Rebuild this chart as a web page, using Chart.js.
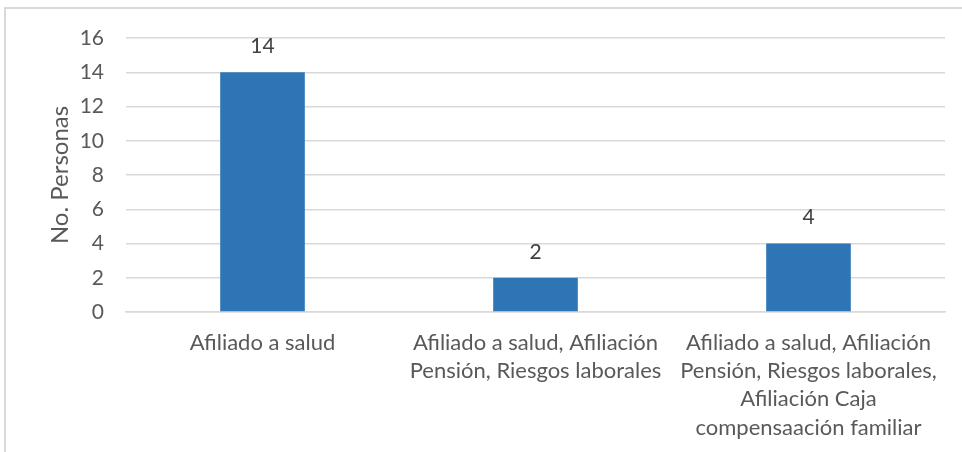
<!DOCTYPE html>
<html lang="es">
<head>
  <meta charset="UTF-8">
  <title>Afiliación</title>
  <script src="https://cdn.jsdelivr.net/npm/chart.js"></script>
  <style>
    html, body { margin: 0; padding: 0; background: #fff; }
    .frame {
      position: absolute; left: 4px; top: 7px; width: 970px; height: 460px;
      border-left: 2px solid #d9d9d9; border-top: 2px solid #d9d9d9;
    }
    .chart-box { position: absolute; left: 0; top: 0; width: 962px; height: 452px; }
  </style>
</head>
<body>
  <div class="frame"></div>
  <div class="chart-box"><canvas id="afiliacionChart"></canvas></div>

  <script>
    // Datos
    const categorias = [
      ['Afiliado a salud'],
      ['Afiliado a salud, Afiliación', 'Pensión, Riesgos laborales'],
      ['Afiliado a salud, Afiliación', 'Pensión, Riesgos laborales,', 'Afiliación Caja', 'compensaación familiar']
    ];
    const personas = [14, 2, 4];
    const ticksY = [0, 2, 4, 6, 8, 10, 12, 14, 16];

    const fuente = 'Lato, "Liberation Sans", sans-serif';

    // etiquetas de valor sobre las barras
    const etiquetas = {
      id: 'etiquetas',
      afterDatasetsDraw(chart) {
        const ctx = chart.ctx;
        const meta = chart.getDatasetMeta(0);
        ctx.save();
        ctx.font = '21px ' + fuente;
        ctx.fillStyle = '#404040';
        ctx.textAlign = 'center';
        ctx.textBaseline = 'middle';
        meta.data.forEach((bar, i) => {
          ctx.fillText(String(personas[i]), bar.x, bar.y - 26);
        });
        ctx.restore();
      }
    };

    new Chart(document.getElementById('afiliacionChart'), {
      type: 'bar',
      data: {
        labels: categorias,
        datasets: [{
          label: 'No. Personas',
          data: personas,
          backgroundColor: '#2e75b6',
          barPercentage: 0.31,
          categoryPercentage: 1
        }]
      },
      options: {
        responsive: true,
        maintainAspectRatio: false,
        animation: false,
        layout: { padding: { left: 40, top: 38, right: 17, bottom: 0 } },
        plugins: { legend: { display: false }, tooltip: { enabled: false } },
        scales: {
          x: {
            grid: { display: false },
            border: { color: '#d9d9d9', width: 1.5 },
            ticks: {
              color: '#595959', font: { family: fuente, size: 22, lineHeight: 1.28 },
              padding: 9, maxRotation: 0, autoSkip: false
            },
            afterFit(scale) { scale.height = 140; }
          },
          y: {
            min: 0, max: 16,
            afterBuildTicks(scale) { scale.ticks = ticksY.map(v => ({ value: v })); },
            grid: { color: '#d9d9d9', lineWidth: 1.5, drawTicks: false },
            border: { display: false },
            ticks: {
              color: '#595959', font: { family: fuente, size: 21 }, padding: 22
            },
            title: {
              display: true, text: 'No. Personas', color: '#595959',
              font: { family: fuente, size: 24 }, padding: { top: 6, bottom: 0 }
            },
            afterFit(scale) { scale.width = 86; }
          }
        }
      },
      plugins: [etiquetas]
    });
  </script>
</body>
</html>
